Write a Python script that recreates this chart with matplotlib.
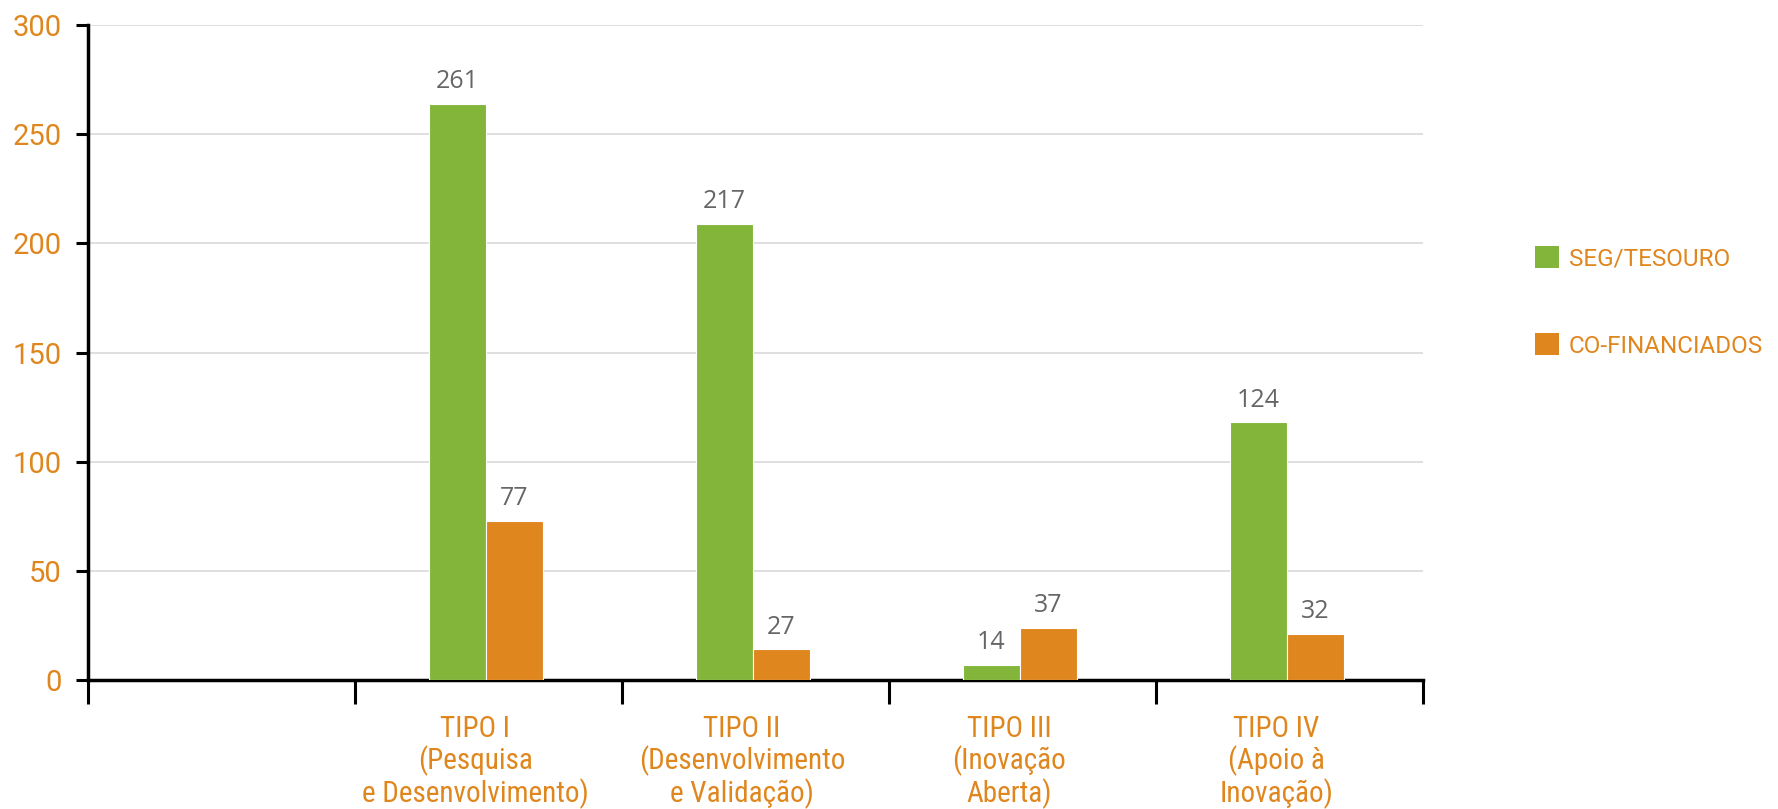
import numpy as np
import matplotlib
matplotlib.use("Agg")
import matplotlib.pyplot as plt
from matplotlib.patches import Patch

# data (bar heights as drawn, labels as printed)
categories = ["",
              "TIPO I\n(Pesquisa\ne Desenvolvimento)",
              "TIPO II\n(Desenvolvimento\ne Validação)",
              "TIPO III\n(Inovação\nAberta)",
              "TIPO IV\n(Apoio à\nInovação)"]
seg_heights = [np.nan, 264, 209, 7, 118]
cofin_heights = [np.nan, 73, 14, 24, 21]
seg_labels = ["", "261", "217", "14", "124"]
cofin_labels = ["", "77", "27", "37", "32"]
series_names = ["SEG/TESOURO", "CO-FINANCIADOS"]
yticks = [0, 50, 100, 150, 200, 250, 300]

GREEN = "#82B53A"
ORANGE = "#E0861E"
GREY = "#666666"

fig = plt.figure(figsize=(17.78, 8.09), dpi=100)
ax = fig.add_axes([0.0495, 0.1595, 0.7508, 0.8095])

x = np.arange(len(categories))
w = 0.213
b1 = ax.bar(x - w / 2 - 0.01, seg_heights, w, color=GREEN, edgecolor="white", linewidth=0.8, zorder=3)
b2 = ax.bar(x + w / 2 - 0.01, cofin_heights, w, color=ORANGE, edgecolor="white", linewidth=0.8, zorder=3)

for bars, labels in ((b1, seg_labels), (b2, cofin_labels)):
    for rect, lab in zip(bars, labels):
        if not lab:
            continue
        ax.annotate(lab, (rect.get_x() + rect.get_width() / 2, rect.get_height()),
                    xytext=(0, 7), textcoords="offset points", ha="center", va="bottom",
                    fontsize=18, color=GREY, family=["Open Sans", "DejaVu Sans"])

ax.set_xlim(-0.5, len(categories) - 0.5)
ax.set_ylim(0, 300)
ax.set_yticks(yticks)
ax.yaxis.grid(True, color="#d9d9d9", linewidth=1.2, zorder=0)
ax.set_axisbelow(True)

# category boundaries as major ticks, labels on minor ticks
ax.set_xticks(np.arange(len(categories) + 1) - 0.5)
ax.set_xticklabels([])
ax.set_xticks(x - 0.05, minor=True)
ax.set_xticklabels(categories, minor=True, color=ORANGE, fontsize=21,
                   family=["Liberation Sans Narrow", "Roboto Condensed", "DejaVu Sans"],
                   linespacing=1.1)
ax.tick_params(axis="x", which="minor", length=0, pad=25)
ax.tick_params(axis="x", which="major", length=17, width=2.2, direction="out", color="black")
ax.tick_params(axis="y", length=9, width=2.2, color="black", pad=10, labelsize=21,
               labelcolor=ORANGE)
for lab in ax.get_yticklabels():
    lab.set_family(["Liberation Sans Narrow", "Roboto", "DejaVu Sans"])

for s in ("top", "right"):
    ax.spines[s].set_visible(False)
for s in ("left", "bottom"):
    ax.spines[s].set_linewidth(2.5)
    ax.spines[s].set_color("black")

handles = [Patch(facecolor=GREEN), Patch(facecolor=ORANGE)]
leg = fig.legend(handles, series_names, loc="center left", bbox_to_anchor=(0.851, 0.627),
                 frameon=False, handlelength=1.0, handleheight=1.0,
                 labelspacing=2.6, handletextpad=0.4,
                 prop={"family": ["Roboto", "DejaVu Sans"], "size": 17.5})
for t in leg.get_texts():
    t.set_color(ORANGE)

fig.savefig("out.png", dpi=100)
plt.close(fig)
